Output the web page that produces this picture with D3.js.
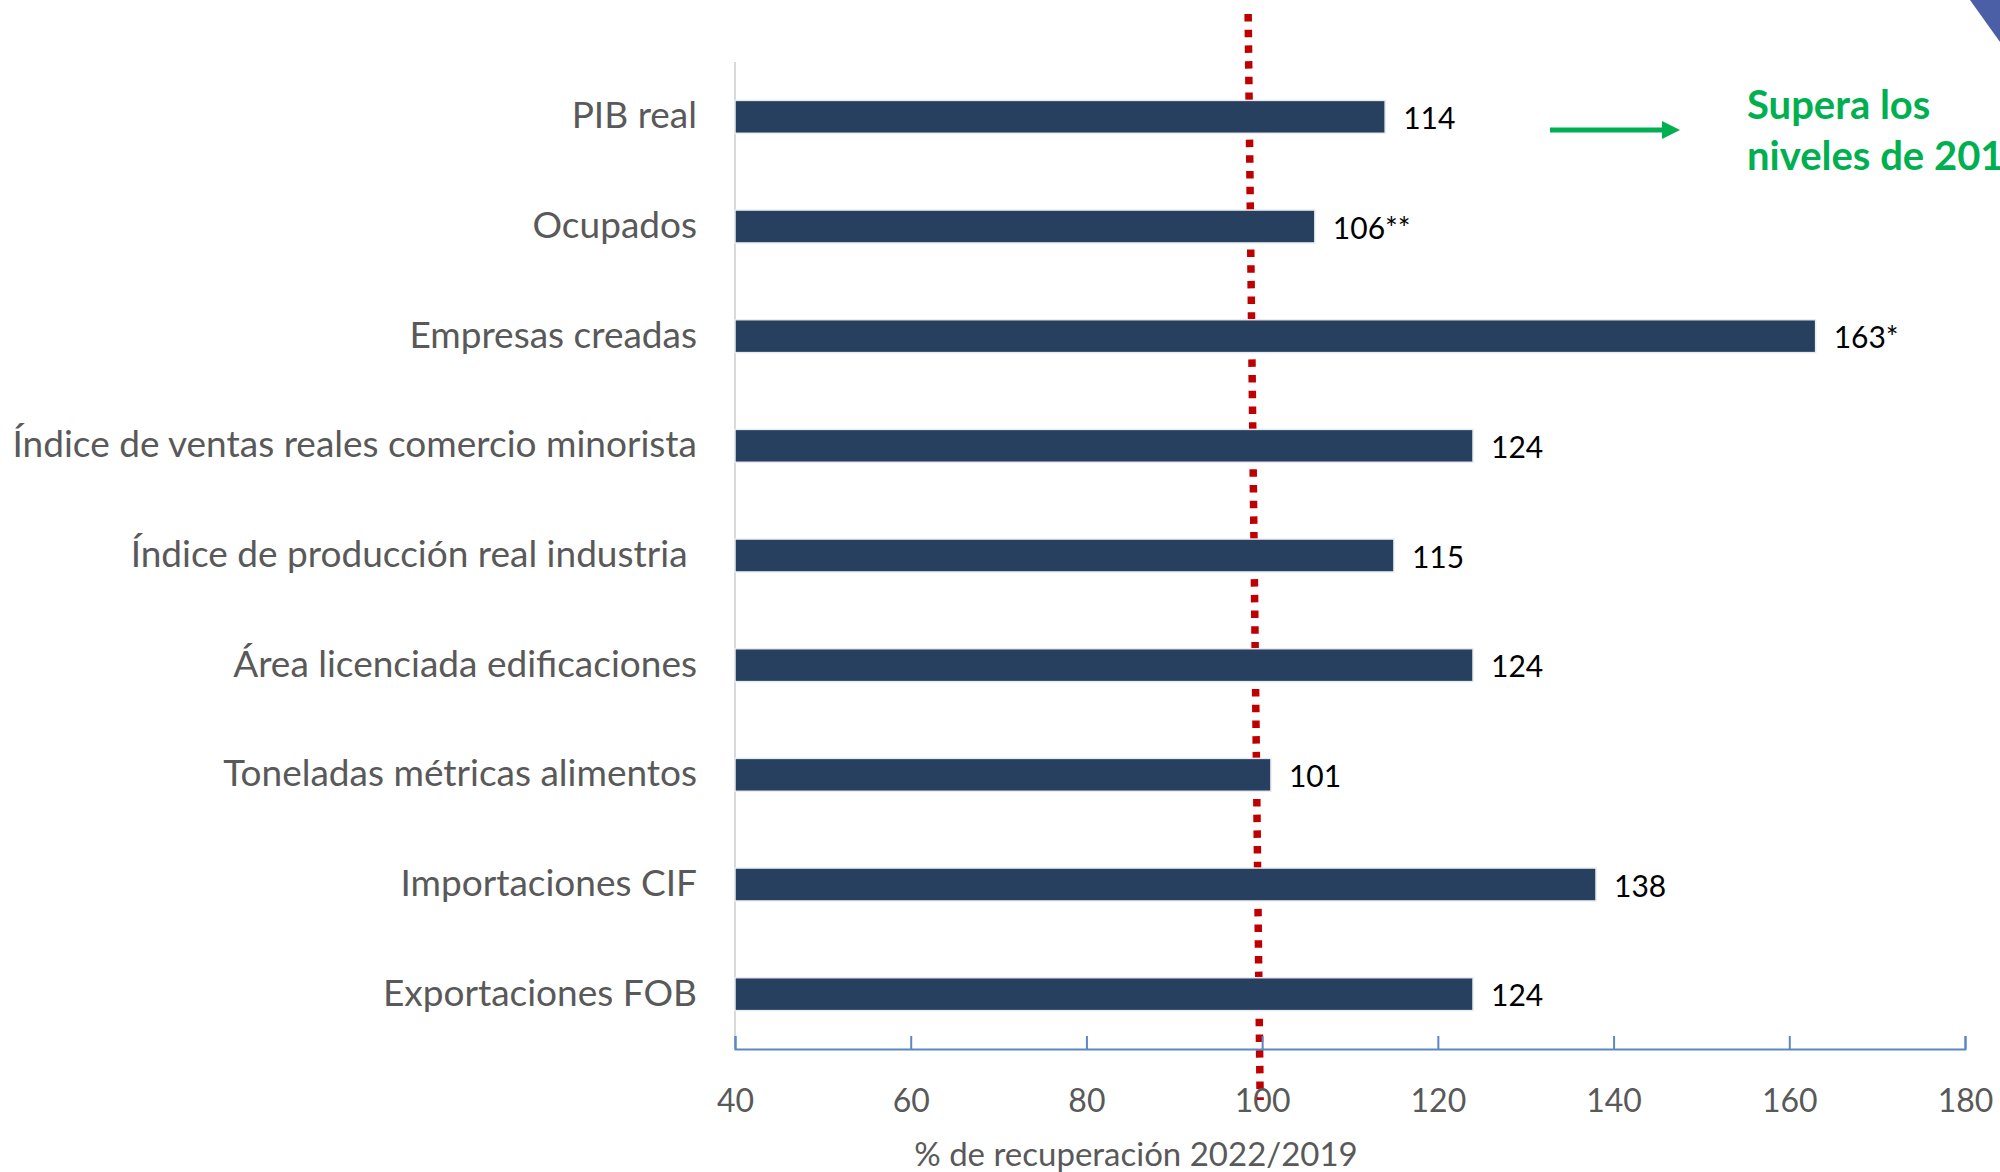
<!DOCTYPE html>
<html lang="es">
<head>
<meta charset="utf-8">
<title>Recuperación 2022/2019</title>
<script src="https://cdn.jsdelivr.net/npm/d3@7"></script>
<style>
  body { margin: 0; background: #fff; }
  .axis path, .axis line { fill: none; stroke: #5b87c5; stroke-width: 2; }
  .axis text { font-family: Lato, "Open Sans", sans-serif; font-size: 32px; fill: #595959; }
  .cat { font-family: Lato, "Open Sans", sans-serif; font-size: 37px; fill: #595959; }
  .val { font-family: Lato, "Open Sans", sans-serif; font-size: 30px; fill: #000; }
</style>
</head>
<body>
<div id="chart"></div>
<script>
// categories (top to bottom) and their % recovery 2022 vs 2019
var categories = [
  "PIB real",
  "Ocupados",
  "Empresas creadas",
  "Índice de ventas reales comercio minorista",
  "Índice de producción real industria ",
  "Área licenciada edificaciones",
  "Toneladas métricas alimentos",
  "Importaciones CIF",
  "Exportaciones FOB"
]
var values = [114, 106, 163, 124, 115, 124, 101, 138, 124]
var valueLabels = ["114", "106**", "163*", "124", "115", "124", "101", "138", "124"]
var xTicks = [40, 60, 80, 100, 120, 140, 160, 180]
var baseline = 100
var axisTitle = "% de recuperación 2022/2019"
var noteLines = ["Supera los", "niveles de 2019"]

var w = 2000
var h = 1172

var svg = d3.select("#chart")
            .append("svg")
            .attr("width", w)
            .attr("height", h)

var xScale = d3.scaleLinear()
               .domain([40, 180])
               .range([735, 1965])

var yScale = d3.scaleBand()
               .domain(categories)
               .range([62, 1049])
               .paddingInner(0.7)
               .paddingOuter(0.35)

// corner decoration top right
svg.append("path")
   .attr("d", "M1970,0 L2000,0 L2000,42 Z")
   .attr("fill", "#4a5fa6")

// dotted reference line at 100 (drawn behind bars)
svg.append("line")
   .attr("x1", xScale(baseline) - 14)
   .attr("y1", 14)
   .attr("x2", xScale(baseline) - 2)
   .attr("y2", 1100)
   .attr("stroke", "#c00000")
   .attr("stroke-width", 7.5)
   .attr("stroke-dasharray", "7.5,8.2")

// left gray axis line
svg.append("line")
   .attr("x1", xScale(40))
   .attr("x2", xScale(40))
   .attr("y1", 62)
   .attr("y2", 1049)
   .attr("stroke", "#d9d9d9")
   .attr("stroke-width", 2)

// bars
svg.selectAll("rect.bar")
   .data(values)
   .enter()
   .append("rect")
   .attr("class", "bar")
   .attr("x", xScale(40))
   .attr("y", function(d, i) { return yScale(categories[i]) })
   .attr("width", function(d) { return xScale(d) - xScale(40) })
   .attr("height", yScale.bandwidth())
   .attr("fill", "#27405f")
   .attr("stroke", "#e8ebef")
   .attr("stroke-width", 1.5)

// value labels
svg.selectAll("text.val")
   .data(values)
   .enter()
   .append("text")
   .attr("class", "val")
   .attr("x", function(d) { return xScale(d) + 18 })
   .attr("y", function(d, i) { return yScale(categories[i]) + yScale.bandwidth() / 2 })
   .attr("dominant-baseline", "central")
   .text(function(d, i) { return valueLabels[i] })

// category labels
svg.selectAll("text.cat")
   .data(categories)
   .enter()
   .append("text")
   .attr("class", "cat")
   .attr("x", 697)
   .attr("y", function(d) { return yScale(d) + yScale.bandwidth() / 2 - 3 })
   .attr("dominant-baseline", "central")
   .attr("text-anchor", "end")
   .style("white-space", "pre")
   .text(function(d) { return d })

// x axis, ticks pointing up
var xAxis = d3.axisBottom(xScale)
              .tickValues(xTicks)
              .tickSize(-13)
              .tickPadding(40)
              .tickFormat(d3.format("d"))

svg.append("g")
   .attr("class", "axis")
   .attr("transform", "translate(0,1049)")
   .call(xAxis)

svg.append("text")
   .attr("x", 1136)
   .attr("y", 1166)
   .attr("text-anchor", "middle")
   .attr("font-family", "Lato, 'Open Sans', sans-serif")
   .attr("font-size", 33)
   .attr("fill", "#595959")
   .text(axisTitle)

// green note with arrow
svg.append("defs").append("marker")
   .attr("id", "arrow")
   .attr("viewBox", "0 0 10 10")
   .attr("refX", 0).attr("refY", 5)
   .attr("markerWidth", 3.6).attr("markerHeight", 3.6)
   .attr("orient", "auto")
   .append("path")
   .attr("d", "M0,0 L10,5 L0,10 Z")
   .attr("fill", "#00b050")

svg.append("line")
   .attr("x1", 1550).attr("y1", 130)
   .attr("x2", 1662).attr("y2", 130)
   .attr("stroke", "#00b050")
   .attr("stroke-width", 5)
   .attr("marker-end", "url(#arrow)")

svg.append("g")
   .selectAll("text")
   .data(noteLines)
   .enter()
   .append("text")
   .attr("x", 1747)
   .attr("y", function(d, i) { return 119 + i * 51 })
   .attr("font-family", "Lato, 'Open Sans', sans-serif")
   .attr("font-weight", "bold")
   .attr("font-size", 40)
   .attr("fill", "#00b050")
   .text(function(d) { return d })
</script>
</body>
</html>
